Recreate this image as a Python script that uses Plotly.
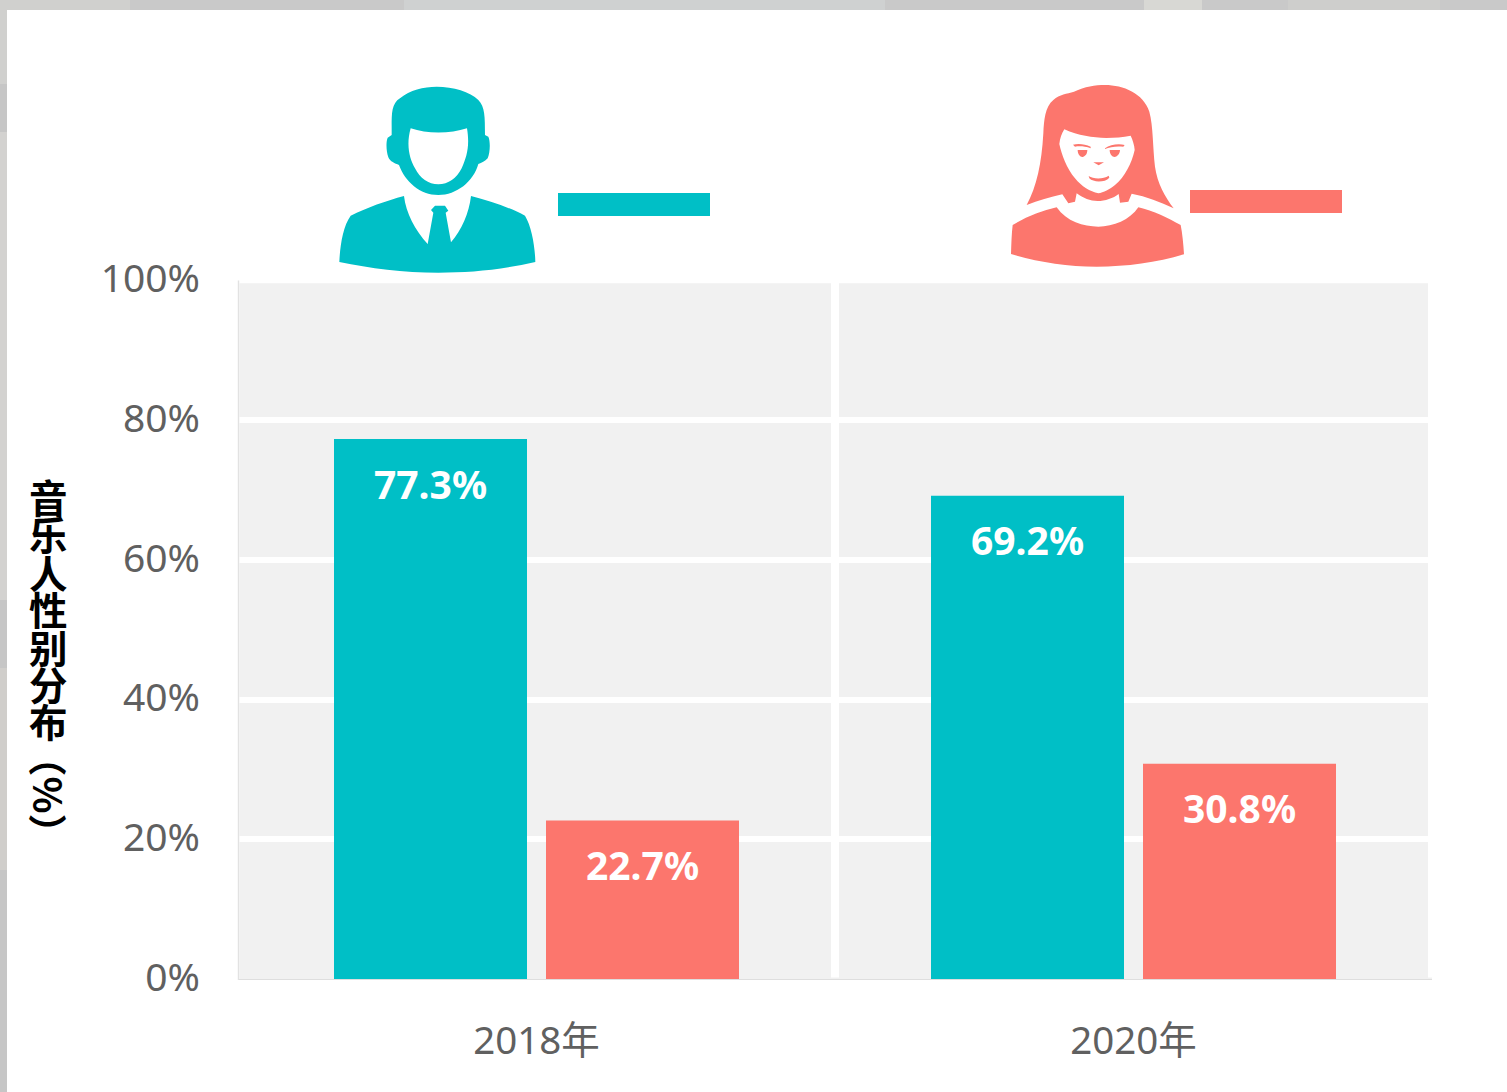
import re
import plotly.graph_objects as go

W, H = 1507, 1092
years = ["2018年", "2020年"]
male = [77.3, 69.2]
female = [22.7, 30.8]
y_ticks = [0, 20, 40, 60, 80, 100]
y_tick_labels = ["0%", "20%", "40%", "60%", "80%", "100%"]
title_chars = list("音乐人性别分布")
title_tail = "（%）"
TEAL, SALMON = "#00BFC6", "#FC766D"
FONT = "'Noto Sans', 'Noto Sans CJK SC', sans-serif"
TICK = "#606060"


def px(x):
    return x / W


def py(y):
    return 1 - y / H


def conv(path, ox, oy, s=1 / 3):
    toks = re.findall(r"[MLCZ]|-?\d+\.?\d*", path)
    out, isx = [], True
    for t in toks:
        if t.isalpha():
            out.append(t)
            isx = True
        else:
            v = float(t)
            if isx:
                out.append(f"{px(ox + v * s):.6f}")
            else:
                out.append(f"{py(oy + v * s):.6f}")
            isx = not isx
    return " ".join(out)


man = """
M 215 170 C 215 130 215 100 240 85 C 270 60 310 50 350 50 C 400 50 450 65 475 90 C 495 110 495 140 495 195
L 505 200 C 512 215 510 250 503 265 C 495 275 485 278 475 282 C 460 335 410 375 355 375 C 300 375 255 335 237 285
C 225 280 210 275 205 262 C 198 240 198 215 203 203 L 215 195 Z
M 272 175 C 320 192 390 192 441 175 C 450 230 440 260 425 295 C 410 325 385 343 355 343 C 325 343 300 325 285 295
C 268 265 258 225 272 175 Z
M 58 576 C 60 530 68 470 92 437 C 140 413 200 392 252 378 C 258 430 285 480 323 522 L 340 428 L 333 420 L 345 407
L 375 407 L 385 422 L 377 428 L 393 517 C 425 480 447 430 453 378 C 510 392 570 413 615 437 C 635 470 645 530 646 576
C 540 600 450 608 355 608 C 250 608 150 595 58 576 Z
"""
woman = """
M 80 405 C 110 350 125 280 130 190 C 132 150 135 110 160 90 C 180 72 200 72 222 65 C 255 50 285 45 315 45
C 370 45 430 70 448 125 C 460 170 458 230 465 290 C 472 340 495 380 521 415 C 480 395 440 380 395 371 L 385 395
L 360 398 L 356 372 C 340 385 315 393 293 393 C 270 393 250 385 230 370 L 225 395 L 205 400 L 187 373
C 150 382 115 392 80 405 Z
M 193 178 C 260 208 330 208 392 197 C 398 210 403 225 404 240 C 395 280 375 320 345 345 C 330 358 310 368 295 370
C 270 365 245 350 225 325 C 200 295 185 255 178 222 C 180 205 185 190 193 178 Z
M 219 224 C 235 220 255 222 272 230 L 272 235 C 255 228 235 228 225 230 Z
M 315 235 C 330 224 355 220 374 225 L 370 230 C 350 228 330 230 315 237 Z
M 233 240 L 262 240 C 262 255 252 261 247 261 C 240 261 233 252 233 240 Z
M 329 240 L 360 240 C 360 252 350 261 344 261 C 336 261 329 252 329 240 Z
M 280 277 L 312 277 L 296 286 Z
M 266 318 C 280 328 310 328 326 317 L 328 323 C 315 338 280 338 268 325 Z
M 38 465 C 80 440 125 422 170 412 C 200 455 250 470 295 470 C 340 470 390 450 415 412 C 460 422 505 445 542 465
C 547 490 550 520 552 553 C 470 578 380 590 290 590 C 200 590 110 575 33 552 C 34 520 35 490 38 465 Z
"""

top_strip = [(0, 130, "#D0D0CE"), (404, 885, "#CFD1D1"), (1144, 1202, "#D8D8D4"), (1288, 1440, "#CECECC")]
left_strip = [(0, 84, "#D0D0CE"), (84, 132, "#C6C6C6"), (132, 600, "#D3D2D0"), (600, 668, "#C6C6C6"),
              (668, 870, "#D0CECB"), (870, 1092, "#C6C6C6")]


def page_rect(x0, y0, x1, y1, color, layer="below"):
    return dict(type="rect", xref="paper", yref="paper", x0=px(x0), x1=px(x1), y0=py(y0), y1=py(y1),
                fillcolor=color, line_width=0, layer=layer)


shapes = []
for a, b, c in top_strip:
    shapes.append(page_rect(a, 0, b, 10, c))
for a, b, c in left_strip:
    shapes.append(page_rect(0, a, 7, b, c))
shapes += [
    page_rect(7, 10, W, H, "#FFFFFF"),
    page_rect(239.5, 283.3, 1432, 979, "#F1F1F1"),
    # vertical separators between the two year panels
    dict(type="line", xref="x", yref="y", x0=0.5, x1=0.5, y0=0.2, y1=100,
         line=dict(color="white", width=8), layer="between"),
    dict(type="line", xref="x", yref="y", x0=1.5, x1=1.5, y0=0.2, y1=100,
         line=dict(color="white", width=8), layer="between"),
    # left axis rule
    page_rect(237.8, 280.5, 239.2, 980, "#E2E2E2", "above"),
    # legend swatches
    page_rect(558, 193, 710, 216, TEAL, "above"),
    page_rect(1190, 190, 1342, 213, SALMON, "above"),
    dict(type="path", xref="paper", yref="paper", path=conv(man, 320, 70), fillcolor=TEAL,
         line_width=0, layer="above"),
    dict(type="path", xref="paper", yref="paper", path=conv(woman, 1000, 70), fillcolor=SALMON,
         line_width=0, layer="above"),
]

annotations = []
for i, v in enumerate(male):
    annotations.append(dict(x=years[i], xshift=-106, y=v, yshift=-44, xref="x", yref="y", text=f"<b>{v}%</b>",
                            showarrow=False, font=dict(family=FONT, size=39, color="white")))
for i, v in enumerate(female):
    annotations.append(dict(x=years[i], xshift=106, y=v, yshift=-44, xref="x", yref="y", text=f"<b>{v}%</b>",
                            showarrow=False, font=dict(family=FONT, size=39, color="white")))
for i, ch in enumerate(title_chars):
    annotations.append(dict(x=px(48.5), y=py(496 + i * 37.4), xref="paper", yref="paper", text=f"<b>{ch}</b>",
                            xanchor="center", yanchor="middle", showarrow=False,
                            font=dict(family="'Noto Sans CJK SC'", size=38.5, color="black")))
annotations.append(dict(x=px(50), y=py(795), xref="paper", yref="paper", text=f"<b>{title_tail}</b>",
                        textangle=90, xanchor="center", yanchor="middle", showarrow=False,
                        font=dict(family="'Noto Sans CJK SC'", size=38.5, color="black")))

fig = go.Figure()
fig.add_bar(x=years, y=male, name="男", marker_color=TEAL, marker_line_width=0)
fig.add_bar(x=years, y=female, name="女", marker_color=SALMON, marker_line_width=0)
fig.update_layout(
    width=W, height=H, autosize=False,
    margin=dict(l=0, r=0, t=0, b=0, pad=0),
    paper_bgcolor="#C9C9C9", plot_bgcolor="rgba(0,0,0,0)",
    barmode="group", bargap=0.2898, bargroupgap=0.0896,
    showlegend=False,
    shapes=shapes, annotations=annotations,
    font=dict(family=FONT, color=TICK, size=38),
)
fig.update_xaxes(type="category", range=[-0.5, 1.5], domain=[px(238), px(1432)], showgrid=False, zeroline=False,
                 automargin=False, showline=True, linecolor="#DEDEDE", linewidth=1,
                 ticks="", ticklabelstandoff=28, tickfont=dict(size=38.5, color=TICK),
                 anchor="y")
fig.update_yaxes(domain=[py(979), py(280.5)], range=[0, 100], tickvals=y_ticks, ticktext=y_tick_labels,
                 automargin=False,
                 showgrid=True, gridcolor="white", gridwidth=6,
                 zeroline=True, zerolinecolor="#DEDEDE", zerolinewidth=1,
                 showline=False,
                 ticks="", ticklabelstandoff=37, ticklabelshift=-2, tickfont=dict(size=39, color=TICK))
fig.write_html("out.html", config={"displayModeBar": False}, post_script="document.body.style.margin='0';")
